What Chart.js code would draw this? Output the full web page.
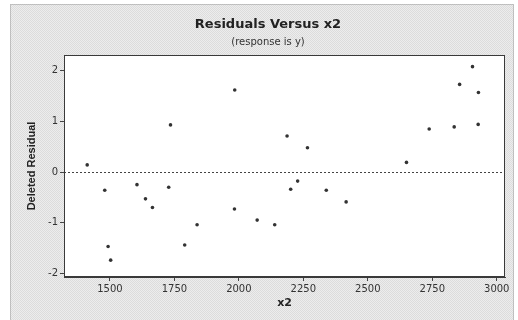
<!DOCTYPE html>
<html>
<head>
<meta charset="utf-8">
<script src="https://cdn.jsdelivr.net/npm/chart.js@4/dist/chart.umd.min.js"></script>
<style>
  html,body{margin:0;padding:0;background:#fff;}
  #wrap{width:518px;height:320px;}
</style>
</head>
<body>
<div id="wrap"><canvas id="c" width="518" height="320"></canvas></div>
<script>
// ---- data ----
const x2Values = [1412, 1480, 1493, 1503, 1605, 1638, 1665, 1728, 1735, 1790,
                  1838, 1983, 1984, 2071, 2139, 2187, 2201, 2228, 2266, 2339,
                  2416, 2650, 2738, 2835, 2856, 2906, 2928, 2929];
const deletedResiduals = [0.14, -0.36, -1.47, -1.74, -0.25, -0.53, -0.70, -0.30, 0.93, -1.44,
                          -1.04, -0.73, 1.62, -0.95, -1.04, 0.71, -0.34, -0.18, 0.48, -0.36,
                          -0.59, 0.19, 0.85, 0.89, 1.73, 2.08, 0.94, 1.57];
const xTickValues = [1500, 1750, 2000, 2250, 2500, 2750, 3000];
const yTickValues = [-2, -1, 0, 1, 2];
const titleText = "Residuals Versus x2";
const subtitleText = "(response is y)";
const xAxisTitle = "x2";
const yAxisTitle = "Deleted Residual";

const points = x2Values.map((x, i) => ({x: x, y: deletedResiduals[i]}));

// stipple background pattern
function makePattern(ctx){
  const p = document.createElement('canvas');
  p.width = 2; p.height = 2;
  const pc = p.getContext('2d');
  pc.fillStyle = '#ededed'; pc.fillRect(0,0,2,2);
  pc.fillStyle = '#dcdcdc'; pc.fillRect(0,0,1,1); pc.fillRect(1,1,1,1);
  return ctx.createPattern(p, 'repeat');
}

const decor = {
  id: 'decor',
  beforeDraw(chart){
    const ctx = chart.ctx;
    const a = chart.chartArea;
    ctx.save();
    ctx.fillStyle = '#ffffff';
    ctx.fillRect(0,0,chart.width,chart.height);
    ctx.fillStyle = makePattern(ctx);
    ctx.fillRect(10,4,504,320);
    ctx.strokeStyle = '#9a9a9a';
    ctx.setLineDash([1,1]);
    ctx.lineWidth = 1;
    ctx.strokeRect(10.5,4.5,503,330);
    ctx.setLineDash([]);
    ctx.fillStyle = '#ffffff';
    ctx.fillRect(a.left, a.top, a.right - a.left, a.bottom - a.top);
    ctx.restore();
  },
  afterDatasetsDraw(chart){
    const ctx = chart.ctx;
    const a = chart.chartArea;
    const ys = chart.scales.y;
    ctx.save();
    // zero reference line
    const y0 = Math.round(ys.getPixelForValue(0)) + 0.5;
    ctx.strokeStyle = '#444';
    ctx.lineWidth = 1;
    ctx.setLineDash([2,2]);
    ctx.beginPath(); ctx.moveTo(a.left, y0); ctx.lineTo(a.right, y0); ctx.stroke();
    ctx.setLineDash([]);
    // frame
    ctx.strokeStyle = '#3a3a3a';
    ctx.strokeRect(Math.round(a.left)+0.5, Math.round(a.top)+0.5,
                   Math.round(a.right-a.left)-1, Math.round(a.bottom-a.top)-1);
    // titles
    ctx.fillStyle = '#222';
    ctx.textAlign = 'center';
    ctx.textBaseline = 'middle';
    ctx.font = 'bold 13px "DejaVu Sans", sans-serif';
    ctx.fillText(titleText, 268, 25);
    ctx.font = '10px "DejaVu Sans", sans-serif';
    ctx.fillStyle = '#333';
    ctx.fillText(subtitleText, 268, 42);
    // axis titles
    ctx.fillStyle = '#222';
    ctx.font = 'bold 11px "DejaVu Sans", sans-serif';
    ctx.fillText(xAxisTitle, (a.left + a.right)/2, 303);
    ctx.font = 'bold 11px "Liberation Sans", Arial, sans-serif';
    ctx.translate(32, (a.top + a.bottom)/2);
    ctx.rotate(-Math.PI/2);
    ctx.fillText(yAxisTitle, 0, 0);
    ctx.restore();
  }
};

new Chart(document.getElementById('c'), {
  type: 'scatter',
  data: {
    datasets: [{
      data: points,
      backgroundColor: '#333333',
      borderColor: '#333333',
      pointRadius: 1.8,
      pointHoverRadius: 1.8,
      borderWidth: 0
    }]
  },
  options: {
    responsive: false,
    animation: false,
    events: [],
    layout: { padding: { left: 0, right: 13, top: 55, bottom: 0 } },
    plugins: { legend: { display: false }, tooltip: { enabled: false } },
    scales: {
      x: {
        type: 'linear',
        min: 1322, max: 3032,
        afterBuildTicks(s){ s.ticks = xTickValues.map(v => ({value: v})); },
        afterFit(s){ s.height = 43; },
        grid: { drawOnChartArea: false, tickLength: 4, color: '#444' },
        border: { display: true, color: '#3a3a3a' },
        ticks: { color: '#333', font: { family: 'DejaVu Sans', size: 10 }, padding: 2, maxRotation: 0, autoSkip: false,
                 callback: v => String(v) }
      },
      y: {
        type: 'linear',
        min: -2.073, max: 2.31,
        afterBuildTicks(s){ s.ticks = yTickValues.map(v => ({value: v})); },
        afterFit(s){ s.width = 64; },
        grid: { drawOnChartArea: false, tickLength: 4, color: '#444' },
        border: { display: true, color: '#3a3a3a' },
        ticks: { color: '#333', font: { family: 'DejaVu Sans', size: 10 }, padding: 2, autoSkip: false,
                 callback: v => String(v) }
      }
    }
  },
  plugins: [decor]
});
</script>
</body>
</html>
